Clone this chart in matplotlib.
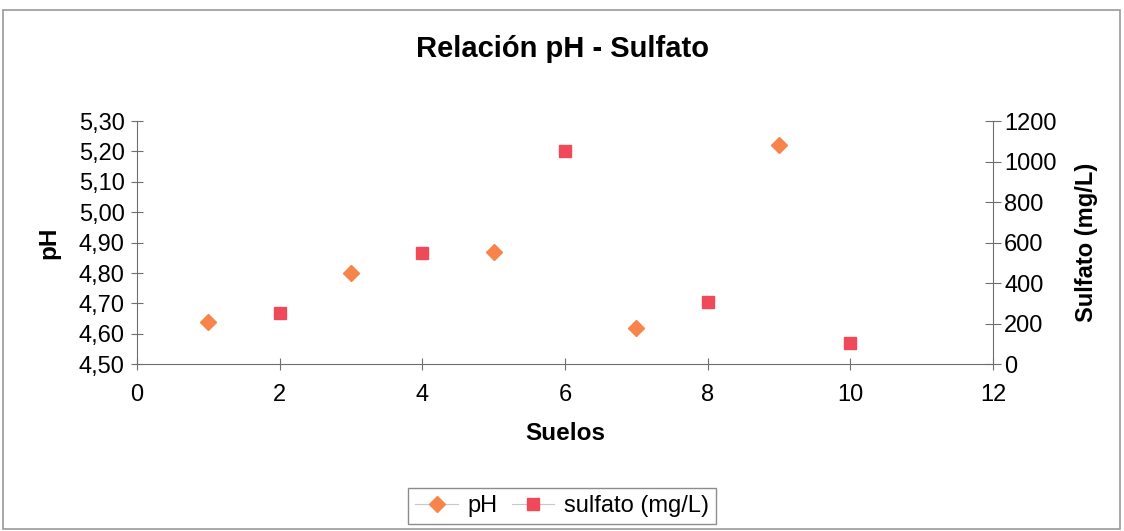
import matplotlib
matplotlib.use("Agg")
import matplotlib.pyplot as plt
from matplotlib.lines import Line2D
from matplotlib.patches import Rectangle
from matplotlib.ticker import FuncFormatter

plt.rcParams["font.family"] = ["Liberation Sans", "DejaVu Sans"]

# Suelos muestreados y mediciones
suelos_ph = [1, 3, 5, 7, 9]
ph = [4.64, 4.80, 4.87, 4.62, 5.22]
suelos_sulfato = [2, 4, 6, 8, 10]
sulfato = [255, 548, 1050, 306, 107]

ph_ticks = [4.5, 4.6, 4.7, 4.8, 4.9, 5.0, 5.1, 5.2, 5.3]
sulfato_ticks = [0, 200, 400, 600, 800, 1000, 1200]
x_ticks = [0, 2, 4, 6, 8, 10, 12]

color_ph = "#f7844a"
color_sulf = "#ef4a5a"
axis_gray = "#6e6e6e"

fig = plt.figure(figsize=(11.24, 5.31), dpi=100)
fig.patch.set_facecolor("white")

# marco exterior del grafico
fig.add_artist(Rectangle((0.003, 0.004), 0.993, 0.977, transform=fig.transFigure,
                         fill=False, edgecolor="#9a9a9a", linewidth=1.2))

ax = fig.add_axes([0.1219, 0.3139, 0.7615, 0.4582])
ax2 = ax.twinx()

ax.plot(suelos_ph, ph, linestyle="none", marker="D", markersize=8.5,
        color=color_ph, label="pH")
ax2.plot(suelos_sulfato, sulfato, linestyle="none", marker="s", markersize=8.5,
         color=color_sulf, label="sulfato (mg/L)")

ax.set_xlim(0, 12)
ax.set_ylim(4.5, 5.3)
ax2.set_ylim(0, 1200)
ax.set_xticks(x_ticks)
ax.set_yticks(ph_ticks)
ax2.set_yticks(sulfato_ticks)
ax.yaxis.set_major_formatter(FuncFormatter(lambda v, p: f"{v:.2f}".replace(".", ",")))

for a in (ax, ax2):
    a.spines["top"].set_visible(False)
    a.spines["left"].set_color(axis_gray)
    a.spines["right"].set_color(axis_gray)
    a.spines["bottom"].set_color(axis_gray)
    a.tick_params(colors="black", labelsize=17, length=6, width=0.8)
ax.spines["right"].set_visible(False)
ax2.spines["left"].set_visible(False)
ax2.spines["bottom"].set_visible(False)
ax.tick_params(axis="y", direction="inout", length=8, color=axis_gray, pad=5)
ax.tick_params(axis="x", direction="inout", length=8, color=axis_gray, pad=10)
ax2.tick_params(axis="y", direction="inout", length=12, color=axis_gray, pad=2)

ax.set_xlabel("Suelos", fontsize=17.5, fontweight="bold", labelpad=12)
ax.set_ylabel("pH", fontsize=17.5, fontweight="bold", labelpad=13)
ax2.set_ylabel("Sulfato (mg/L)", fontsize=17, fontweight="bold", labelpad=13)

fig.text(0.5, 0.907, "Relación pH - Sulfato", ha="center", va="center",
         fontsize=21, fontweight="bold")

handles = [
    Line2D([0], [0], color="#c8c8c8", linewidth=0.8, marker="D", markersize=8,
           markerfacecolor=color_ph, markeredgecolor=color_ph),
    Line2D([0], [0], color="#c8c8c8", linewidth=0.8, marker="s", markersize=8,
           markerfacecolor=color_sulf, markeredgecolor=color_sulf),
]
leg = fig.legend(handles, ["pH", "sulfato (mg/L)"], loc="center",
                 bbox_to_anchor=(0.5, 0.047), ncol=2, frameon=True, fancybox=False,
                 fontsize=17, handlelength=1.8, handletextpad=0.4, columnspacing=0.6,
                 borderpad=0.3)
leg.get_frame().set_edgecolor("#707070")
leg.get_frame().set_linewidth(1.0)

fig.savefig("out.png", dpi=100, facecolor="white")
